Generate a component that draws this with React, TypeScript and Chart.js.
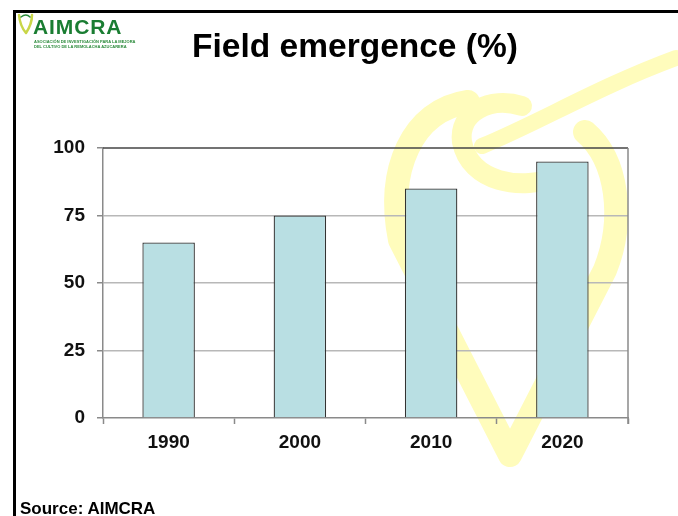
import React, { useEffect, useRef } from "react";
import { Chart, registerables } from "chart.js";

Chart.register(...registerables);

const categories = ["1990", "2000", "2010", "2020"];
const emergence = [65, 75, 85, 95];
const yMin = 0;
const yMax = 100;
const yStep = 25;

const FONT = "'Liberation Sans', Arial, Helvetica, sans-serif";

const decorPlugin = {
  id: "decor",
  beforeDraw(chart: any) {
    const ctx = chart.ctx as CanvasRenderingContext2D;
    ctx.save();
    // pale yellow watermark
    ctx.strokeStyle = "#fffcbc";
    ctx.lineCap = "round";
    ctx.lineJoin = "round";
    ctx.lineWidth = 24;
    ctx.beginPath();
    ctx.moveTo(468, 102);
    ctx.bezierCurveTo(412, 110, 386, 170, 400, 240);
    ctx.lineTo(510, 455);
    ctx.lineTo(605, 270);
    ctx.bezierCurveTo(625, 220, 618, 160, 585, 132);
    ctx.stroke();
    ctx.lineWidth = 20;
    ctx.beginPath();
    ctx.moveTo(560, 176);
    ctx.bezierCurveTo(520, 192, 470, 182, 462, 142);
    ctx.bezierCurveTo(458, 112, 490, 96, 522, 106);
    ctx.stroke();
    ctx.lineWidth = 16;
    ctx.beginPath();
    ctx.moveTo(482, 146);
    ctx.bezierCurveTo(540, 122, 600, 86, 676, 58);
    ctx.stroke();

    // slide frame
    ctx.fillStyle = "#000";
    ctx.fillRect(13, 10, 665, 3);
    ctx.fillRect(13, 10, 3, 506);

    // logo icon
    ctx.strokeStyle = "#c9d648";
    ctx.lineWidth = 2.5;
    ctx.beginPath();
    ctx.moveTo(19, 15);
    ctx.quadraticCurveTo(20, 26, 26, 33);
    ctx.quadraticCurveTo(32, 24, 32, 15);
    ctx.stroke();
    ctx.strokeStyle = "#2a8a3a";
    ctx.lineWidth = 1.5;
    ctx.beginPath();
    ctx.moveTo(21, 17);
    ctx.quadraticCurveTo(26, 13, 30, 17);
    ctx.stroke();
    ctx.restore();
  },
  afterDatasetsDraw(chart: any) {
    const ctx = chart.ctx as CanvasRenderingContext2D;
    const a = chart.chartArea;
    ctx.save();
    ctx.lineWidth = 1.5;
    ctx.strokeStyle = "#444";
    ctx.beginPath();
    ctx.moveTo(a.left, a.top);
    ctx.lineTo(a.right, a.top);
    ctx.stroke();
    ctx.strokeStyle = "#8a8a8a";
    ctx.beginPath();
    ctx.moveTo(a.right, a.top);
    ctx.lineTo(a.right, a.bottom + 6);
    ctx.stroke();
    ctx.restore();
  },
};

export default function App() {
  const ref = useRef<HTMLCanvasElement | null>(null);

  useEffect(() => {
    if (!ref.current) return;
    const chart = new Chart(ref.current, {
      type: "bar",
      data: {
        labels: categories,
        datasets: [
          {
            data: emergence,
            backgroundColor: "#b9dfe3",
            borderColor: "#333",
            borderWidth: 1.3,
            categoryPercentage: 1,
            barPercentage: 0.4,
          },
        ],
      },
      options: {
        responsive: false,
        animation: false,
        devicePixelRatio: 1,
        layout: { padding: { left: 43, right: 50, top: 148, bottom: 58 } },
        plugins: {
          legend: { display: false },
          tooltip: { enabled: false },
          title: { display: false },
        },
        scales: {
          x: {
            grid: {
              offset: true,
              drawOnChartArea: false,
              tickLength: 6,
              tickColor: "#8a8a8a",
              tickWidth: 1.5,
            },
            border: { color: "#8a8a8a", width: 1.5 },
            ticks: {
              color: "#111",
              padding: 7,
              font: { family: FONT, size: 19, weight: "bold" },
            },
            afterFit: (s: any) => {
              s.height = 40;
            },
          },
          y: {
            min: yMin,
            max: yMax,
            ticks: {
              stepSize: yStep,
              color: "#111",
              padding: 12,
              font: { family: FONT, size: 19, weight: "bold" },
            },
            grid: {
              color: (c: any) =>
                c.tick && (c.tick.value === yMin || c.tick.value === yMax)
                  ? "rgba(0,0,0,0)"
                  : "#b8b8b8",
              lineWidth: 1.5,
              tickLength: 6,
              tickColor: "#8a8a8a",
              tickWidth: 1.5,
            },
            border: { color: "#8a8a8a", width: 1.5 },
            afterFit: (s: any) => {
              s.width = 60;
            },
          },
        },
      },
      plugins: [decorPlugin],
    });
    return () => chart.destroy();
  }, []);

  return (
    <div
      style={{
        position: "fixed",
        left: 0,
        top: 0,
        width: 678,
        height: 516,
        background: "#fff",
        overflow: "hidden",
        fontFamily: FONT,
      }}
    >
      <canvas
        ref={ref}
        width={678}
        height={516}
        style={{ position: "absolute", left: 0, top: 0, width: 678, height: 516 }}
      />
      <div
        style={{
          position: "absolute",
          left: 33,
          top: 16,
          fontSize: 21,
          lineHeight: "21px",
          fontWeight: "bold",
          color: "#1a7d32",
          letterSpacing: 0.9,
        }}
      >
        AIMCRA
      </div>
      <div
        style={{
          position: "absolute",
          left: 34,
          top: 39,
          fontSize: 4,
          lineHeight: "5px",
          fontWeight: "bold",
          color: "#2a8a3a",
          whiteSpace: "nowrap",
        }}
      >
        ASOCIACIÓN DE INVESTIGACIÓN PARA LA MEJORA
        <br />
        DEL CULTIVO DE LA REMOLACHA AZUCARERA
      </div>
      <div
        style={{
          position: "absolute",
          left: 355,
          top: 29,
          transform: "translateX(-50%)",
          fontSize: 33.5,
          lineHeight: "33px",
          fontWeight: "bold",
          color: "#000",
          whiteSpace: "nowrap",
        }}
      >
        Field emergence (%)
      </div>
      <div
        style={{
          position: "absolute",
          left: 20,
          top: 500,
          fontSize: 17,
          lineHeight: "17px",
          fontWeight: "bold",
          color: "#000",
          whiteSpace: "nowrap",
        }}
      >
        Source: AIMCRA
      </div>
    </div>
  );
}
